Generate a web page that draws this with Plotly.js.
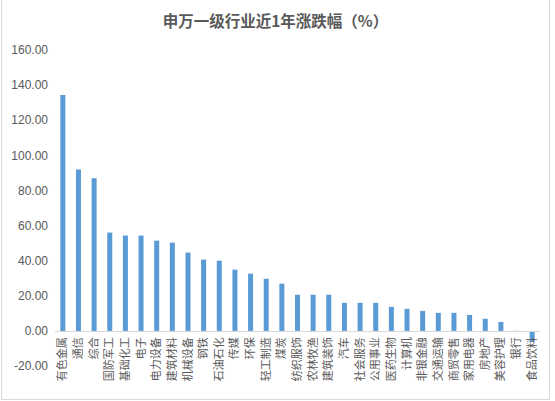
<!DOCTYPE html>
<html>
<head>
<meta charset="utf-8">
<script src="https://cdn.plot.ly/plotly-3.0.1.min.js"></script>
<style>
  body { margin: 0; background: #fff; }
  #frame { position: absolute; left: 1px; top: -1px; width: 549px; height: 401px;
           border: 1px solid #d9d9d9; box-sizing: border-box; }
  #chart { width: 547px; height: 399px; }
</style>
</head>
<body>
<div id="frame"><div id="chart"></div></div>
<script>
// 申万一级行业近1年涨跌幅
var hangye = ['有色金属', '通信', '综合', '国防军工', '基础化工', '电子', '电力设备', '建筑材料',
    '机械设备', '钢铁', '石油石化', '传媒', '环保', '轻工制造', '煤炭', '纺织服饰', '农林牧渔',
    '建筑装饰', '汽车', '社会服务', '公用事业', '医药生物', '计算机', '非银金融', '交通运输',
    '商贸零售', '家用电器', '房地产', '美容护理', '银行', '食品饮料'];
var zhangdie = [134.3, 92.0, 86.9, 56.0, 54.3, 54.3, 51.4, 50.3, 44.6, 40.6, 40.0, 34.9, 32.6,
    29.7, 26.9, 20.6, 20.6, 20.6, 16.0, 16.0, 16.0, 13.7, 12.6, 11.4, 10.3, 10.3, 9.1, 6.9,
    5.1, 0.1, -6.2];
var yTicks = [-20, 0, 20, 40, 60, 80, 100, 120, 140, 160];

var zhuzi = {
    type: 'bar',
    x: hangye,
    y: zhangdie,
    marker: { color: '#5b9bd5' },
    hoverinfo: 'x+y'
};

var layout = {
    width: 547,
    height: 399,
    margin: { l: 53, r: 9, t: 50, b: 33 },
    paper_bgcolor: '#ffffff',
    plot_bgcolor: '#ffffff',
    showlegend: false,
    bargap: 0.68,
    font: { family: '"Noto Sans CJK SC", "Liberation Sans", sans-serif', color: '#595959' },
    title: {
        text: '申万一级行业近1年涨跌幅（%）',
        font: { size: 15.5, weight: 'bold', color: '#595959', family: '"Noto Sans CJK SC", sans-serif' },
        x: 0.5, xanchor: 'center',
        yref: 'container', y: 0.947, yanchor: 'middle'
    },
    xaxis: {
        type: 'category',
        tickangle: -90,
        tickfont: { size: 11, color: '#595959', family: '"Noto Sans CJK SC", sans-serif' },
        anchor: 'free',
        position: 20 / 180,      // 横轴放在 0 刻度处
        showline: true,
        linecolor: '#d9d9d9',
        linewidth: 1,
        showgrid: false,
        zeroline: false,
        ticks: '',
        ticklabelstandoff: 1,
        automargin: false,
        fixedrange: true
    },
    yaxis: {
        range: [-20, 160],
        tickmode: 'array',
        tickvals: yTicks,
        ticktext: yTicks.map(function (v) { return v.toFixed(2); }),
        tickfont: { size: 12, color: '#595959', family: '"Liberation Sans", Arial, sans-serif' },
        showgrid: false,
        zeroline: false,
        showline: false,
        ticks: '',
        ticklabelstandoff: 6,
        fixedrange: true
    }
};

Plotly.newPlot('chart', [zhuzi], layout, { displayModeBar: false, staticPlot: true });
</script>
</body>
</html>
